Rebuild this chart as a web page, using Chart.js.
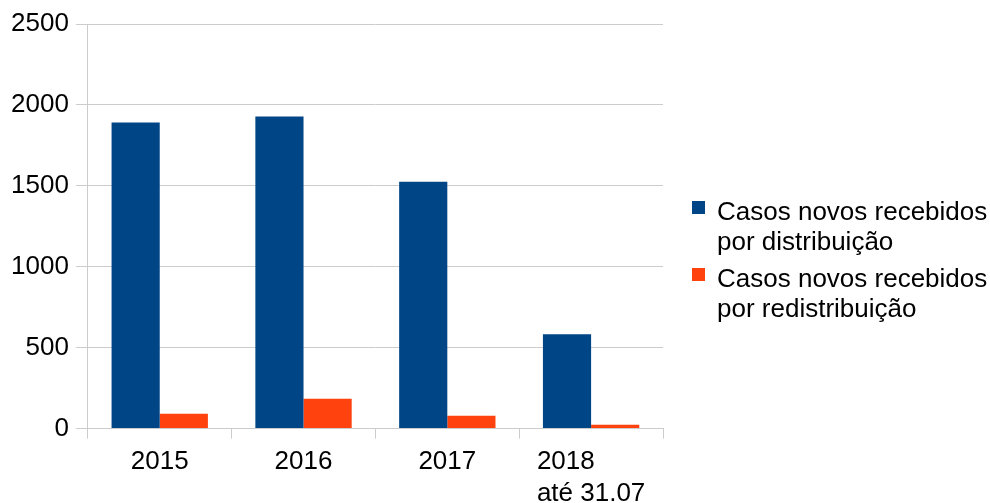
<!DOCTYPE html>
<html>
<head>
<meta charset="utf-8">
<script src="https://cdn.jsdelivr.net/npm/chart.js@4/dist/chart.umd.min.js"></script>
<style>
  html, body { margin: 0; padding: 0; background: #fff; }
  #wrap { position: relative; width: 990px; height: 503px; }
  #legend { position: absolute; left: 692px; top: 196px; font: 26px/30px "Liberation Sans", Arial, sans-serif; color: #000; white-space: nowrap; }
  .item { position: relative; padding-left: 25px; margin-bottom: 7px; }
  .box { position: absolute; left: 0; top: 5px; width: 13px; height: 13px; }
</style>
</head>
<body>
<div id="wrap">
  <canvas id="casos-chart"></canvas>
  <div id="legend"></div>
</div>
<script>
// categories and values
let years = ['2015', '2016', '2017', ['2018       ', 'até 31.07']];
let distribuicao = [1891, 1928, 1525, 583];
let redistribuicao = [92, 185, 80, 24];
let seriesNames = [
	['Casos novos recebidos', 'por distribuição'],
	['Casos novos recebidos', 'por redistribuição']
];
let yTicks = [0, 500, 1000, 1500, 2000, 2500];

let gridGray = '#cccccc';
let barColors = ['#004586', '#ff420e'];

Chart.defaults.font.family = '"Liberation Sans", Arial, sans-serif';
Chart.defaults.font.size = 26;
Chart.defaults.color = '#000';

let contex = document.querySelector('#casos-chart').getContext('2d');

let casosChart = new Chart(contex, {
	type: 'bar',
	data: {
		labels: years,
		datasets: [
			{ label: seriesNames[0].join(' '), data: distribuicao, backgroundColor: barColors[0] },
			{ label: seriesNames[1].join(' '), data: redistribuicao, backgroundColor: barColors[1] }
		]
	},
	options: {
		responsive: true,
		maintainAspectRatio: false,
		animation: false,
		categoryPercentage: 0.67,
		barPercentage: 1,
		layout: { padding: { left: 4, top: 24, right: 327, bottom: -14 } },
		plugins: {
			tooltip: { enabled: false },
			legend: { display: false }
		},
		scales: {
			x: {
				grid: {
					offset: true,
					tickLength: 10,
					tickColor: gridGray,
					color: function(c) {
						return (c.index === 0 || c.index === years.length) ? gridGray : 'rgba(0,0,0,0)';
					}
				},
				border: { color: gridGray },
				ticks: { padding: 8, maxRotation: 0, autoSkip: false, font: { lineHeight: 1.2 } }
			},
			y: {
				min: 0,
				max: 2500,
				afterBuildTicks: function(axis) {
					axis.ticks = yTicks.map(function(v) { return { value: v }; });
				},
				grid: { color: gridGray, tickLength: 12 },
				border: { color: gridGray },
				ticks: { padding: 7, callback: function(v) { return String(v); } }
			}
		}
	}
});

// legend built from the same series
let legendEl = document.querySelector('#legend');
casosChart.data.datasets.forEach(function(ds, i) {
	let item = document.createElement('div');
	item.className = 'item';
	let box = document.createElement('span');
	box.className = 'box';
	box.style.background = ds.backgroundColor;
	item.appendChild(box);
	seriesNames[i].forEach(function(line) {
		let row = document.createElement('div');
		row.textContent = line;
		item.appendChild(row);
	});
	legendEl.appendChild(item);
});
</script>
</body>
</html>
